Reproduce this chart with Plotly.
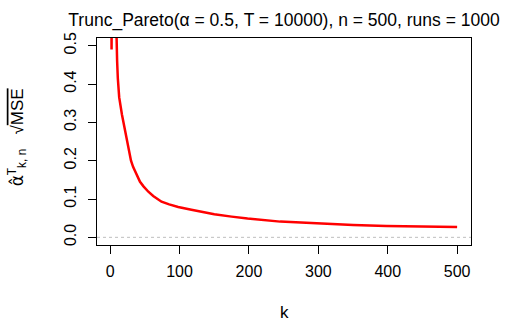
import plotly.graph_objects as go

# sqrt(MSE) of the estimator against k
k_values = [1, 2, 3, 8, 9, 10, 11, 13, 17, 21, 26, 30, 33, 38, 43, 48, 55, 62,
            74, 85, 98, 117, 135, 150, 175, 198, 245, 293, 350, 398, 445, 500]
rmse = [0.95, 0.49, 0.95, 0.62, 0.50, 0.46, 0.415, 0.365, 0.32, 0.28, 0.23, 0.20,
        0.184, 0.162, 0.145, 0.133, 0.119, 0.108, 0.093, 0.086, 0.079, 0.072,
        0.065, 0.060, 0.054, 0.049, 0.041, 0.0365, 0.032, 0.0295, 0.0277, 0.027]

x_ticks = [0, 100, 200, 300, 400, 500]
y_ticks = [0.0, 0.1, 0.2, 0.3, 0.4, 0.5]

font = "Liberation Sans, Arial, sans-serif"

fig = go.Figure()

# dotted reference line at zero
fig.add_trace(go.Scatter(
    x=[-19, 520], y=[0, 0], mode="lines",
    line=dict(color="#bebebe", width=1, dash="dot"),
    hoverinfo="skip", showlegend=False,
))

fig.add_trace(go.Scatter(
    x=k_values, y=rmse, mode="lines",
    line=dict(color="#ff0000", width=2.5),
    showlegend=False,
))

axis_common = dict(
    showline=True, linecolor="black", linewidth=1, mirror=True,
    ticks="outside", ticklen=8, tickcolor="black",
    showgrid=False, zeroline=False, automargin=False,
    tickfont=dict(family=font, size=16, color="black"),
)

fig.update_xaxes(range=[-19, 520], tickvals=x_ticks, ticklabelstandoff=4, **axis_common)
fig.update_yaxes(range=[-0.02, 0.52], tickvals=y_ticks, tickformat=".1f",
                 tickangle=-90, ticklabelstandoff=6, **axis_common)

fig.update_layout(
    width=510, height=322,
    margin=dict(l=97, r=39, t=38, b=77),
    plot_bgcolor="white", paper_bgcolor="white",
    font=dict(family=font, size=16, color="black"),
    title=dict(
        text="Trunc_Pareto(α = 0.5, T = 10000), n = 500, runs = 1000",
        x=0.5, xref="paper", xanchor="center",
        y=1 - 20 / 322, yref="container", yanchor="middle",
        font=dict(family=font, size=17.5, color="black"),
    ),
    annotations=[
        dict(text="k", xref="paper", yref="paper", x=0.5, y=-67 / 207,
             xanchor="center", yanchor="middle", showarrow=False,
             font=dict(family=font, size=17)),
        dict(text="<span style='font-family:DejaVu Sans'>α̂</span><sup>T</sup><sub>k, n</sub>   √<span style='text-decoration:overline'>MSE</span>",
             xref="paper", yref="paper", x=-80 / 374, y=0.52,
             xanchor="center", yanchor="middle", textangle=-90, showarrow=False,
             font=dict(family=font, size=17)),
    ],
)

# drop the browser's default body margin so the figure sits at the page corner
fig.write_html("out.html", config={"displayModeBar": False},
               post_script="document.body.style.margin = '0';")
